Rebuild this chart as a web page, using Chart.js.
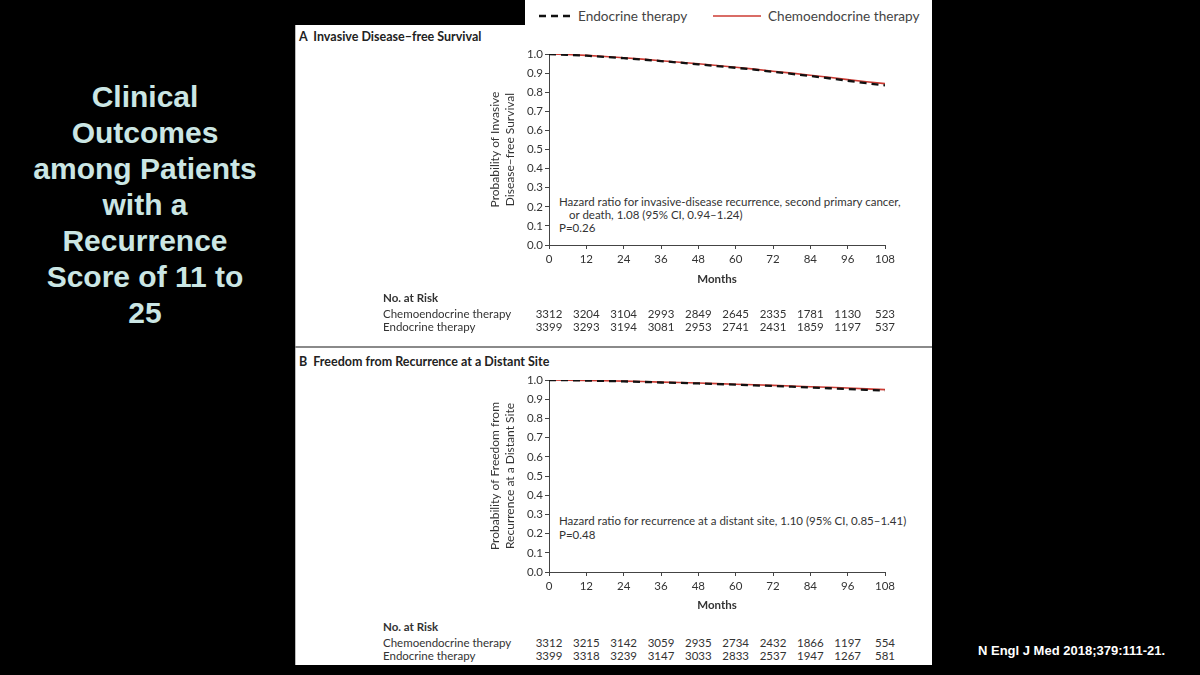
<!DOCTYPE html>
<html><head><meta charset="utf-8">
<script src="https://cdn.jsdelivr.net/npm/chart.js@4.4.1/dist/chart.umd.min.js"></script>
<style>
body{margin:0;background:#000;width:1200px;height:675px;overflow:hidden;position:relative;font-family:Lato,'Open Sans',sans-serif;}
#panel{position:absolute;left:295px;top:25px;width:637px;height:640px;background:#fff;border-left:1px solid #bbb;box-sizing:border-box;}
#legendbox{position:absolute;left:525px;top:0;width:407px;height:26px;background:#fff;}
#divider{position:absolute;left:295px;top:346px;width:637px;height:2px;background:#8a8a8a;}
.t{position:absolute;white-space:nowrap;color:#333;font-size:11.5px;line-height:14px;}
.b{font-weight:bold;}
.ptitle{position:absolute;white-space:nowrap;color:#222;font-size:12.5px;font-weight:bold;line-height:14px;}
#title{position:absolute;left:0;top:79px;width:290px;text-align:center;color:#cbe6e4;font-family:'Liberation Sans',Arial,sans-serif;font-weight:bold;font-size:30px;line-height:36px;}
#cite{position:absolute;left:978px;top:643px;color:#fff;font-family:'Liberation Sans',Arial,sans-serif;font-weight:bold;font-size:13px;line-height:16px;white-space:nowrap;}
canvas{position:absolute;}
.leg{position:absolute;top:8px;font-size:13.6px;color:#444;line-height:16px;white-space:nowrap;}
</style></head>
<body>
<div id="title">Clinical<br>Outcomes<br>among Patients<br>with a<br>Recurrence<br>Score of 11 to<br>25</div>
<div id="cite">N Engl J Med 2018;379:111-21.</div>
<div id="panel"></div>
<div id="legendbox"></div>
<div id="divider"></div>
<svg style="position:absolute;left:535px;top:8px" width="40" height="16"><line x1="4" y1="8" x2="37" y2="8" stroke="#111" stroke-width="2.5" stroke-dasharray="7,5"/></svg>
<div class="leg" style="left:578px">Endocrine therapy</div>
<svg style="position:absolute;left:710px;top:8px" width="54" height="16"><line x1="3" y1="8" x2="51" y2="8" stroke="#cc3b33" stroke-width="1.6"/></svg>
<div class="leg" style="left:768px">Chemoendocrine therapy</div>

<div class="ptitle" style="left:299px;top:30px">A&nbsp;&nbsp;Invasive Disease–free Survival</div>
<div class="ptitle" style="left:299px;top:355px">B&nbsp;&nbsp;Freedom from Recurrence at a Distant Site</div>

<div class="t" style="left:559px;top:195px">Hazard ratio for invasive-disease recurrence, second primary cancer,</div>
<div class="t" style="left:569px;top:208px">or death, 1.08 (95% CI, 0.94–1.24)</div>
<div class="t" style="left:559px;top:221px">P=0.26</div>
<div class="t" style="left:559px;top:514px">Hazard ratio for recurrence at a distant site, 1.10 (95% CI, 0.85–1.41)</div>
<div class="t" style="left:559px;top:528px">P=0.48</div>

<canvas id="cA" width="636" height="255" style="left:296px;top:40px"></canvas>
<canvas id="cB" width="636" height="254" style="left:296px;top:366px"></canvas>

<script>
// ---- data ----
const months = [0,6,12,18,24,30,36,42,48,54,60,66,72,78,84,90,96,102,108];
const idfsChemo = [1.0,0.997,0.993,0.987,0.980,0.973,0.965,0.957,0.949,0.940,0.931,0.921,0.910,0.900,0.889,0.878,0.866,0.855,0.845];
const idfsEndo  = [1.0,0.996,0.991,0.985,0.978,0.971,0.963,0.955,0.946,0.937,0.928,0.918,0.907,0.896,0.885,0.873,0.860,0.847,0.836];
const distChemo = [1.0,0.999,0.998,0.996,0.994,0.992,0.989,0.987,0.984,0.981,0.978,0.975,0.972,0.969,0.965,0.962,0.958,0.954,0.950];
const distEndo  = [1.0,0.999,0.997,0.995,0.993,0.990,0.987,0.985,0.982,0.979,0.976,0.972,0.969,0.965,0.961,0.957,0.953,0.949,0.945];

const riskMonths = [0,12,24,36,48,60,72,84,96,108];
const riskA_chemo = [3312,3204,3104,2993,2849,2645,2335,1781,1130,523];
const riskA_endo  = [3399,3293,3194,3081,2953,2741,2431,1859,1197,537];
const riskB_chemo = [3312,3215,3142,3059,2935,2734,2432,1866,1197,554];
const riskB_endo  = [3399,3318,3239,3147,3033,2833,2537,1947,1267,581];

const yTitleA = ['Probability of Invasive','Disease–free Survival'];
const yTitleB = ['Probability of Freedom from','Recurrence at a Distant Site'];

Chart.defaults.font.family = "Lato, 'Open Sans', sans-serif";

function makeChart(id, endo, chemo, yTitle, xHeight, titleBottom){
  const toPts = arr => arr.map((v,i)=>({x:months[i], y:v}));
  return new Chart(document.getElementById(id), {
    type:'line',
    data:{datasets:[
      {label:'Endocrine therapy', data:toPts(endo), borderColor:'#111', borderWidth:2.3, borderDash:[7,5], pointRadius:0, tension:0, fill:false},
      {label:'Chemoendocrine therapy', data:toPts(chemo), borderColor:'#cc3b33', borderWidth:1.6, pointRadius:0, tension:0, fill:false}
    ]},
    options:{
      responsive:false, animation:false, devicePixelRatio:1,
      layout:{padding:{left:180,right:47,top:14,bottom:0}},
      plugins:{legend:{display:false}, tooltip:{enabled:false}},
      scales:{
        x:{type:'linear', min:0, max:108,
          ticks:{stepSize:12, color:'#333', font:{size:11.5}, padding:3, maxRotation:0, autoSkip:false},
          grid:{drawOnChartArea:false, tickLength:4, tickColor:'#444', color:'#444'},
          border:{color:'#444', width:1},
          title:{display:true, text:'Months', color:'#333', font:{size:11.5, weight:'bold'}, padding:{top:0,bottom:titleBottom}},
          afterFit(s){ s.height = xHeight; }
        },
        y:{min:0, max:1,
          ticks:{stepSize:0.1, color:'#333', font:{size:11.5}, padding:2, callback:v=>Number(v).toFixed(1)},
          grid:{drawOnChartArea:false, tickLength:4, tickColor:'#444', color:'#444'},
          border:{color:'#444', width:1},
          title:{display:true, text:yTitle, color:'#333', font:{size:12, lineHeight:1.25}, padding:{top:11.5,bottom:0}},
          afterFit(s){ s.width = 73; }
        }
      }
    }
  });
}

const chartA = makeChart('cA', idfsEndo, idfsChemo, yTitleA, 50, 9);
const chartB = makeChart('cB', distEndo, distChemo, yTitleB, 48, 8);

function addText(txt, left, top, cls, center){
  const d = document.createElement('div');
  d.className = 't' + (cls ? ' '+cls : '');
  d.textContent = txt;
  d.style.left = left + 'px';
  d.style.top = top + 'px';
  if (center) d.style.transform = 'translateX(-50%)';
  document.body.appendChild(d);
}

function riskTable(chart, canvasLeft, yHead, chemo, endo){
  addText('No. at Risk', 383, yHead - 7, 'b');
  addText('Chemoendocrine therapy', 383, yHead + 9);
  addText('Endocrine therapy', 383, yHead + 22);
  const xs = chart.scales.x;
  riskMonths.forEach((m,i)=>{
    const px = canvasLeft + xs.getPixelForValue(m);
    addText(String(chemo[i]), px, yHead + 9, '', true);
    addText(String(endo[i]), px, yHead + 22, '', true);
  });
}
riskTable(chartA, 296, 298, riskA_chemo, riskA_endo);
riskTable(chartB, 296, 627, riskB_chemo, riskB_endo);
</script>
</body></html>
